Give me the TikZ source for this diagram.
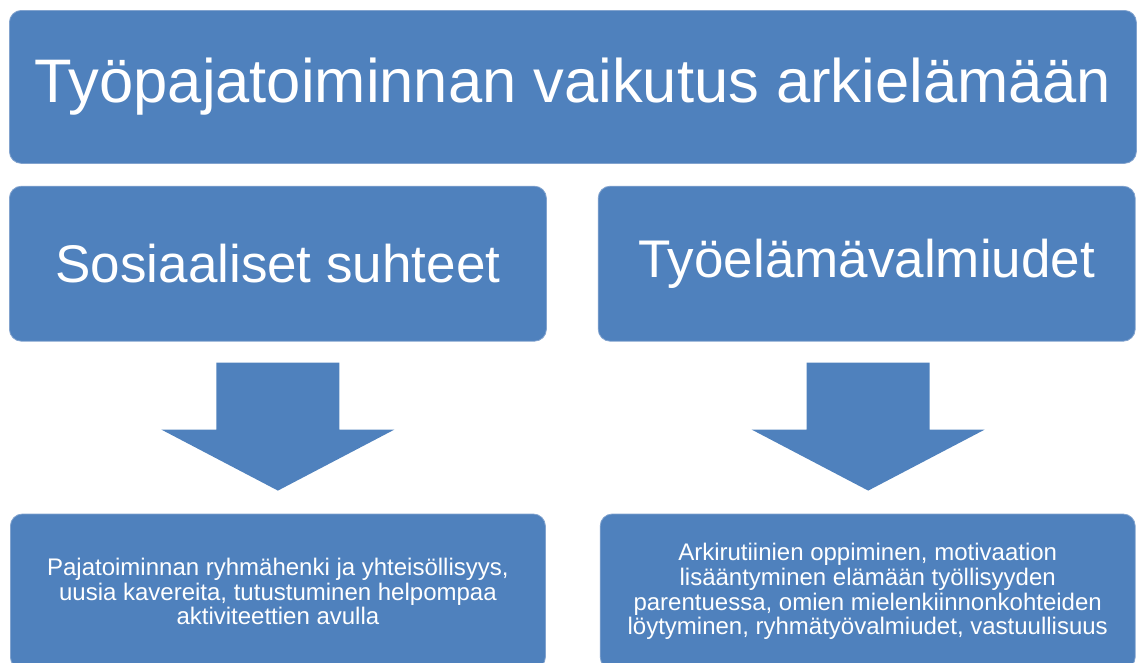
\documentclass[tikz,border=0pt]{standalone}
\usepackage{fontspec}
\setmainfont{Liberation Sans}
\usetikzlibrary{positioning}
\definecolor{boxblue}{RGB}{79,129,189}
\definecolor{boxedge}{RGB}{130,163,206}
\tikzstyle{bluebox}=[rectangle,rounded corners=12pt,fill=boxblue,draw=boxedge,line width=0.8pt,text=white,align=center,inner sep=0pt]
\tikzstyle{blockarrow}=[fill=boxblue]
\tikzstyle{bigtext}=[font=\fontsize{61.5}{70}\selectfont]
\tikzstyle{midtext}=[font=\fontsize{53}{60}\selectfont]
\tikzstyle{smalltext}=[font=\fontsize{24}{24.7}\selectfont]

\begin{document}
\begin{tikzpicture}
\useasboundingbox (0,0) rectangle (1137pt,-662pt);
\node (title) [bluebox,bigtext,anchor=north west,minimum width=1127pt,minimum height=153pt] at (9pt,-10pt) {Työpajatoiminnan vaikutus arkielämään};

\node (social) [below=22pt of title.south west,anchor=north west,bluebox,midtext,minimum width=537pt,minimum height=155pt]{Sosiaaliset suhteet};
\node (work) [right=51pt of social.north east,anchor=north west,bluebox,midtext,minimum width=537pt,minimum height=155pt]{Työelämävalmiudet};

% block arrows
\fill[blockarrow] ([yshift=-21pt]social.south) ++(-61.5pt,0) -- ++(123pt,0) -- ++(0,-67pt) -- ++(55pt,0)
  -- ++(-116.5pt,-61pt) coordinate (socialtip) -- ++(-116.5pt,61pt) -- ++(55pt,0) -- cycle;
\fill[blockarrow] ([xshift=1.5pt,yshift=-21pt]work.south) ++(-61.5pt,0) -- ++(123pt,0) -- ++(0,-67pt) -- ++(55pt,0)
  -- ++(-116.5pt,-61pt) coordinate (worktip) -- ++(-116.5pt,61pt) -- ++(55pt,0) -- cycle;

\node (socialres) [below=172pt of social.south,anchor=north,bluebox,smalltext,minimum width=535pt,minimum height=155pt]{Pajatoiminnan ryhmähenki ja yhteisöllisyys,\\uusia kavereita, tutustuminen helpompaa\\aktiviteettien avulla};
\node (workres) [below=172pt of work.south,xshift=1pt,anchor=north,bluebox,smalltext,minimum width=535pt,minimum height=155pt]{Arkirutiinien oppiminen, motivaation\\lisääntyminen elämään työllisyyden\\parentuessa, omien mielenkiinnonkohteiden\\löytyminen, ryhmätyövalmiudet, vastuullisuus};
\end{tikzpicture}
\end{document}
